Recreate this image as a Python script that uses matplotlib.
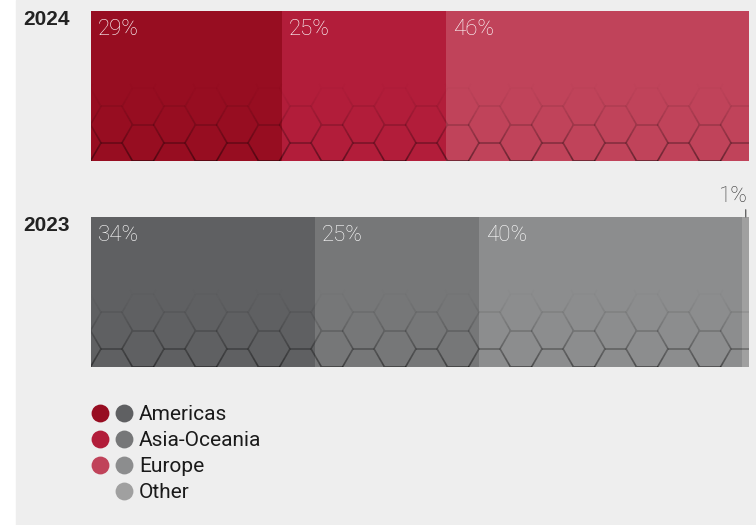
import numpy as np
import matplotlib
matplotlib.use("Agg")
import matplotlib.pyplot as plt
from matplotlib.collections import LineCollection
from matplotlib.patches import Rectangle
from matplotlib import transforms

## DATA
years = ["2024", "2023"]
regions = ["Americas", "Asia-Oceania", "Europe", "Other"]
share_2024 = [29, 25, 46, 0]
share_2023 = [34, 25, 40, 1]
red_cols = ["#970d21", "#b21d3a", "#c0435a", "#c0435a"]
grey_cols = ["#5f6062", "#767778", "#8c8d8e", "#a0a0a0"]

plt.rcParams['font.family'] = ['Liberation Sans', 'DejaVu Sans']
ROBO = ['Roboto', 'Liberation Sans', 'DejaVu Sans']

W, H = 756, 525
fig = plt.figure(figsize=(W/100, H/100), dpi=100)
fig.patch.set_facecolor("white")

# grey panel + pixel axes for legend/labels
bg = fig.add_axes([0, 0, 1, 1])
bg.set_xlim(0, W)
bg.set_ylim(H, 0)
bg.axis("off")
bg.add_patch(Rectangle((16, 0), W-16, H, color="#eeeeee", zorder=0))

# main bar axes
BH = 150/206.
top_px, bot_px = 11, 367
ax = fig.add_axes([91/W, (H-bot_px)/H, 658/W, (bot_px-top_px)/H])
ax.set_xlim(0, 100)
ax.set_ylim(1 + BH/2, -BH/2)
ax.axis("off")
ax.patch.set_alpha(0)

series = [share_2024, share_2023]
palettes = [red_cols, grey_cols]

def hex_lines(R=21.0):
	hh = R*np.sqrt(3)/2
	segs = []
	ys = []
	for k in range(-3, 26):
		cx = 52 + 1.5*R*k
		for m in range(-2, 6):
			cy = hh*(2*m+1) if k % 2 == 0 else 2*hh*m
			ang = np.radians([0, 60, 120, 180])
			vx = cx + R*np.cos(ang)
			vy = cy + R*np.sin(ang)
			for j in range(3):
				# split edge for smooth fade
				for t0 in np.linspace(0, 1, 5)[:-1]:
					t1 = t0 + 0.25
					x0 = vx[j] + (vx[j+1]-vx[j])*t0
					y0 = vy[j] + (vy[j+1]-vy[j])*t0
					x1 = vx[j] + (vx[j+1]-vx[j])*t1
					y1 = vy[j] + (vy[j+1]-vy[j])*t1
					segs.append([(x0, y0), (x1, y1)])
					ys.append((y0+y1)/2)
	return segs, np.array(ys)

segs, seg_y = hex_lines()
alpha = 0.45*np.clip(1 - seg_y/80., 0, 1)**1.5
alpha[seg_y < -1] = 0.45
seg_cols = np.zeros((len(segs), 4))
seg_cols[:, 3] = alpha

for i, (vals, cols) in enumerate(zip(series, palettes)):
	left = 0
	for v, c in zip(vals, cols):
		if v > 0:
			ax.barh(i, v, left=left, height=BH, color=c, linewidth=0)
			if v >= 5:
				ax.annotate(f"{v}%", xy=(left, i - BH/2), xytext=(7, -8),
					textcoords="offset pixels", ha="left", va="top",
					color="white", fontsize=16, family=ROBO, fontweight="light")
			else:
				ax.annotate(f"{v}%", xy=(left + v/2, i - BH/2), xytext=(2, 10),
					textcoords="offset pixels", ha="right", va="bottom",
					color="#3a3a3a", fontsize=16, annotation_clip=False,
					family=ROBO, fontweight="light",
					arrowprops=dict(arrowstyle="-", color="#666666", lw=1,
						shrinkA=0, shrinkB=0, relpos=(0.93, 0)))
		left += v

	# hex pattern anchored at bar bottom-left
	tr = transforms.Affine2D() + transforms.ScaledTranslation(0, i + BH/2, ax.transData)
	lc = LineCollection(segs, colors=seg_cols, linewidths=1.2, transform=tr)
	ax.add_collection(lc, autolim=False)
	clip = Rectangle((0, i - BH/2), sum(vals), BH, transform=ax.transData)
	lc.set_clip_path(clip)

	ax.annotate(years[i], xy=(0, i - BH/2), xytext=(-68, 1),
		textcoords="offset pixels", ha="left", va="top",
		fontsize=15, fontweight="bold", color="#222222", annotation_clip=False)

# legend
row_y = [413, 439, 465, 491]
for r, name in enumerate(regions):
	if share_2024[r] > 0:
		bg.scatter(100, row_y[r], s=165, color=red_cols[r], linewidths=0, zorder=3)
	bg.scatter(124, row_y[r], s=165, color=grey_cols[r], linewidths=0, zorder=3)
	bg.text(139, row_y[r], name, ha="left", va="center_baseline",
		fontsize=15, color="#1a1a1a", family=ROBO)

plt.savefig("out.png", dpi=100)
